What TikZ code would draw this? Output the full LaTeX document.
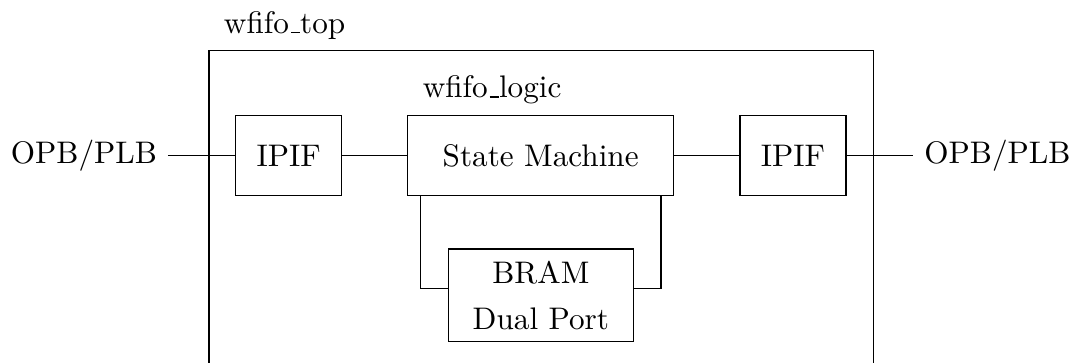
\documentclass[tikz,border=0pt]{standalone}
% short underscore rule, as in the old text fonts
\newcommand{\usc}{\leavevmode\kern.06em\vbox{\hrule width.3em}}
\begin{document}
\begin{tikzpicture}[
    block/.style={draw, inner sep=0pt, minimum height=.901cm},
    ipif/.style={block, minimum width=1.194cm}]
        \useasboundingbox (0,0) rectangle (12.12,4.078);
        % outer wrapper, runs off the bottom of the page
        \node[draw, anchor=north west, minimum width=7.482cm, minimum height=4cm] (topbox) at (2.346,3.514) {};
        \node[above right, xshift=1.5pt] (toplabel) at (topbox.north west) {wfifo\usc top};
        \node[ipif] (ipifl) at (3.252,2.325) {IPIF};
        \node[block, minimum width=2.996cm] (sm) at (6.090,2.325) {State Machine};
        \node[above right, xshift=1.5pt] (logiclabel) at (sm.north west) {wfifo\usc logic};
        \node[ipif] (ipifr) at (8.932,2.325) {IPIF};
        \node[draw, inner sep=0pt, minimum width=2.084cm, minimum height=1.044cm, align=center] (bram) at (6.092,.751) {BRAM\\[2.6pt]Dual Port};
        \node[left] (opbl) at (1.892,2.325) {OPB/PLB};
        \node[right] (opbr) at (10.288,2.325) {OPB/PLB};
        % bus connections
        \draw (opbl) -- (ipifl);
        \draw (ipifl) -- (sm);
        \draw (sm) -- (ipifr);
        \draw (ipifr) -- (opbr);
        % both ports of the BRAM
        \draw ([xshift=.15cm]sm.south west) |- ([yshift=2.25pt]bram.west);
        \draw ([xshift=-.15cm]sm.south east) |- ([yshift=2.25pt]bram.east);
\end{tikzpicture}
\end{document}
